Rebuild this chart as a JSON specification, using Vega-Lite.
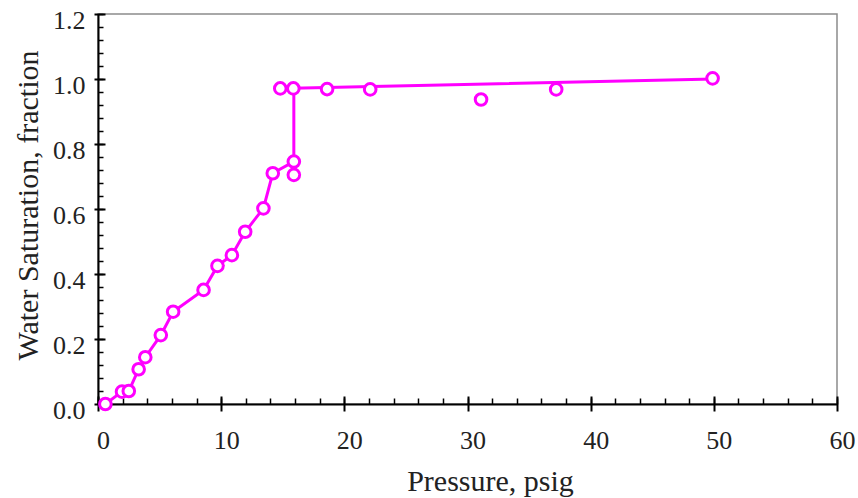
{
  "$schema": "https://vega.github.io/schema/vega-lite/v6.json",
  "autosize": {"type": "none"},
  "padding": {"left": 98, "top": 14, "right": 21, "bottom": 94},
  "width": 739,
  "height": 390,
  "background": "white",
  "config": {
    "view": {"stroke": "#8c8c8c", "strokeWidth": 1.5},
    "font": "Liberation Serif",
    "axis": {"grid": false, "labelFont": "Liberation Serif", "titleFont": "Liberation Serif", "labelColor": "#222", "titleColor": "#222", "titleFontWeight": "normal", "tickColor": "black", "domainColor": "black"}
  },
  "datasets": {
    "line": [
      {"o": 1, "p": 0.6, "sw": 0.0},
      {"o": 2, "p": 1.95, "sw": 0.038},
      {"o": 3, "p": 2.5, "sw": 0.04},
      {"o": 4, "p": 3.3, "sw": 0.107},
      {"o": 5, "p": 3.84, "sw": 0.144},
      {"o": 6, "p": 5.1, "sw": 0.212},
      {"o": 7, "p": 6.1, "sw": 0.284},
      {"o": 8, "p": 8.57, "sw": 0.351},
      {"o": 9, "p": 9.7, "sw": 0.425},
      {"o": 10, "p": 10.87, "sw": 0.458},
      {"o": 11, "p": 11.95, "sw": 0.53},
      {"o": 12, "p": 13.43, "sw": 0.602},
      {"o": 13, "p": 14.19, "sw": 0.71},
      {"o": 14, "p": 15.9, "sw": 0.746},
      {"o": 15, "p": 15.9, "sw": 0.971},
      {"o": 16, "p": 14.8, "sw": 0.971},
      {"o": 17, "p": 50.0, "sw": 1.0}
    ],
    "pts": [
      {"p": 0.6, "sw": 0.0},
      {"p": 1.95, "sw": 0.038},
      {"p": 2.5, "sw": 0.04},
      {"p": 3.3, "sw": 0.107},
      {"p": 3.84, "sw": 0.144},
      {"p": 5.1, "sw": 0.212},
      {"p": 6.1, "sw": 0.284},
      {"p": 8.57, "sw": 0.351},
      {"p": 9.7, "sw": 0.425},
      {"p": 10.87, "sw": 0.458},
      {"p": 11.95, "sw": 0.53},
      {"p": 13.43, "sw": 0.602},
      {"p": 14.19, "sw": 0.71},
      {"p": 15.9, "sw": 0.705},
      {"p": 15.9, "sw": 0.746},
      {"p": 14.8, "sw": 0.971},
      {"p": 15.86, "sw": 0.971},
      {"p": 18.6, "sw": 0.969},
      {"p": 22.1, "sw": 0.968},
      {"p": 31.1, "sw": 0.937},
      {"p": 37.2, "sw": 0.968},
      {"p": 49.9, "sw": 1.002}
    ]
  },
  "layer": [
    {
      "data": {"name": "line"},
      "mark": {"type": "line", "color": "#ff00ff", "strokeWidth": 3},
      "encoding": {
        "x": {"field": "p", "type": "quantitative",
          "scale": {"domain": [0, 60], "nice": false, "zero": false},
          "axis": {"orient": "bottom", "values": [0, 10, 20, 30, 40, 50, 60], "domain": false, "offset": -8, "tickSize": 15, "tickWidth": 2, "labelPadding": 16, "labelFontSize": 26, "labelOffset": 5, "labelFlush": false, "title": "Pressure, psig", "titleFontSize": 30, "titleX": 392, "titleY": 94, "titleBaseline": "alphabetic", "titleAnchor": null}},
        "y": {"field": "sw", "type": "quantitative",
          "scale": {"domain": [0, 1.2], "nice": false, "zero": false},
          "axis": {"orient": "left", "values": [0, 0.2, 0.4, 0.6, 0.8, 1.0, 1.2], "format": ".1f", "domain": false, "offset": -7, "tickSize": 11, "tickWidth": 2, "labelPadding": 9, "labelFontSize": 26, "labelOffset": 6, "labelFlush": false, "title": "Water Saturation, fraction", "titleFontSize": 30, "titleX": -68, "titleY": 191, "titleBaseline": "alphabetic", "titleAngle": -90, "titleAlign": "center"}},
        "order": {"field": "o", "type": "quantitative"}
      }
    },
    {
      "data": {"name": "pts"},
      "mark": {"type": "point", "shape": "circle", "filled": true, "fill": "white", "stroke": "#ff00ff", "strokeWidth": 3, "size": 135, "opacity": 1},
      "encoding": {
        "x": {"field": "p", "type": "quantitative",
          "axis": {"orient": "bottom", "values": [0,2,4,6,8,10,12,14,16,18,20,22,24,26,28,30,32,34,36,38,40,42,44,46,48,50,52,54,56,58,60], "domain": true, "domainWidth": 2, "tickSize": -6, "tickWidth": 1.5, "labels": false, "title": null}},
        "y": {"field": "sw", "type": "quantitative",
          "axis": {"orient": "left", "values": [0,0.04,0.08,0.12,0.16,0.2,0.24,0.28,0.32,0.36,0.4,0.44,0.48,0.52,0.56,0.6,0.64,0.68,0.72,0.76,0.8,0.84,0.88,0.92,0.96,1.0,1.04,1.08,1.12,1.16,1.2], "domain": true, "domainWidth": 2, "tickSize": -5, "tickWidth": 1.5, "labels": false, "title": null}}
      }
    }
  ],
  "resolve": {"axis": {"x": "independent", "y": "independent"}}
}
